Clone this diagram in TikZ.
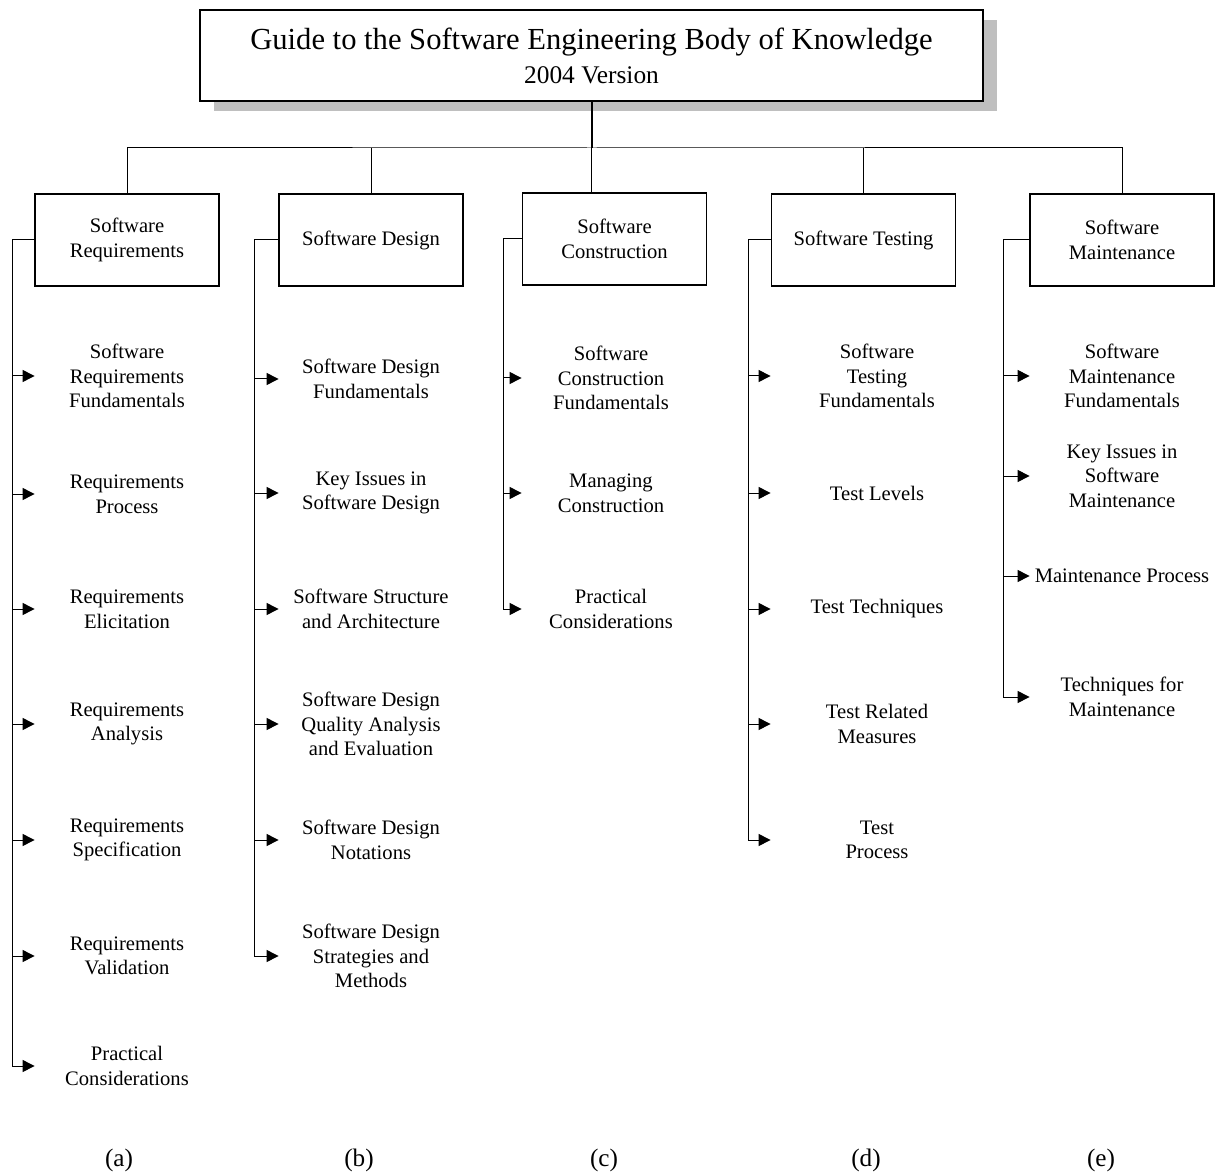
\documentclass[tikz,border=0pt]{standalone}
\usepackage{fontspec}
\setmainfont{Liberation Serif}
\usetikzlibrary{arrows.meta,shadows}

\tikzset{
  area/.style={draw, line width=0.75pt, minimum width=92pt, minimum height=46pt,
    align=center, inner sep=0pt, font=\fontsize{10.3}{12.3}\selectfont},
  topic/.style={minimum width=92pt, align=center, inner sep=0pt,
    font=\fontsize{10.3}{12.3}\selectfont},
  link/.style={line width=0.5pt},
  branch/.style={line width=0.5pt, -{Triangle[length=6pt,width=6pt]}},
  caption/.style={font=\fontsize{12.6}{14}\selectfont}
}

\begin{document}
\begin{tikzpicture}[x=0.5pt,y=-0.5pt]
    \useasboundingbox (0,0) rectangle (1215,1176);

    % Title box
    \node[draw, line width=0.75pt, fill=white, minimum width=391.5pt, minimum height=45.5pt,
      align=center, inner sep=0pt,
      drop shadow={shadow xshift=7pt, shadow yshift=-5pt, fill=black!25, opacity=1}]
      (guide) at (591.5,55.5)
      {{\fontsize{15.3}{16.5}\selectfont Guide to the Software Engineering Body of Knowledge}\\[5pt]
       {\fontsize{12.7}{16.5}\selectfont 2004 Version}};

    % Knowledge areas
    \node[area] (sa) at (127,240) {Software\\Requirements};
    \node[area] (sb) at (371,240) {Software Design};
    \node[area] (sc) at (614.5,239) {Software\\Construction};
    \node[area] (sd) at (863.5,240) {Software Testing};
    \node[area] (se) at (1122,240) {Software\\Maintenance};

    % Top level links
    \coordinate (bus) at (591.5,148);
    \draw[line width=1pt] (guide.south) -- (bus);
    \draw[link] (sa.north) |- (bus) -| (se.north);
    \draw[link] (sb.north) -- (sb.north |- bus);
    \draw[link] (bus) -- (bus |- sc.north);
    \draw[link] (sd.north) -- (sd.north |- bus);

    % (a) Software Requirements
    \foreach \k/\y/\t in {1/376/{Software\\Requirements\\Fundamentals},
                          2/494/{Requirements\\Process},
                          3/609/{Requirements\\Elicitation},
                          4/724/{Requirements\\Analysis},
                          5/840/{Requirements\\Specification},
                          6/956/{Requirements\\Validation},
                          7/1066/{Practical\\Considerations}}
      \node[topic] (a\k) at (127,\y) {\t};
    \coordinate (ra) at (12,240);
    \draw[link] (sa.west) -- (ra) -- (ra |- a7.west);
    \foreach \k in {1,...,7}
      \draw[branch] (ra |- a\k.west) -- (a\k.west);

    % (b) Software Design
    \foreach \k/\y/\t in {1/379/{Software Design\\Fundamentals},
                          2/493/{Key Issues in\\Software Design},
                          3/609/{Software Structure\\and Architecture},
                          4/724/{Software Design\\Quality Analysis\\and Evaluation},
                          5/840/{Software Design\\Notations},
                          6/956/{Software Design\\Strategies and\\Methods}}
      \node[topic] (b\k) at (371,\y) {\t};
    \coordinate (rb) at (254,240);
    \draw[link] (sb.west) -- (rb) -- (rb |- b6.west);
    \foreach \k in {1,...,6}
      \draw[branch] (rb |- b\k.west) -- (b\k.west);

    % (c) Software Construction
    \foreach \k/\y/\t in {1/378/{Software\\Construction\\Fundamentals},
                          2/493/{Managing\\Construction},
                          3/609/{Practical\\Considerations}}
      \node[topic, minimum width=89pt] (c\k) at (611,\y) {\t};
    \coordinate (rc) at (503,239);
    \draw[link] (sc.west) -- (rc) -- (rc |- c3.west);
    \foreach \k in {1,...,3}
      \draw[branch] (rc |- c\k.west) -- (c\k.west);

    % (d) Software Testing
    \foreach \k/\y/\t in {1/376/{Software\\Testing\\Fundamentals},
                          2/493/{Test Levels},
                          3/609/{Test Techniques},
                          4/724/{Test Related\\Measures},
                          5/840/{Test\\Process}}
      \node[topic, minimum width=106pt] (d\k) at (877,\y) {\t};
    \coordinate (rd) at (748,240);
    \draw[link] (sd.west) -- (rd) -- (rd |- d5.west);
    \foreach \k in {1,...,5}
      \draw[branch] (rd |- d\k.west) -- (d\k.west);

    % (e) Software Maintenance
    \foreach \k/\y/\t in {1/376/{Software\\Maintenance\\Fundamentals},
                          2/476/{Key Issues in\\Software\\Maintenance},
                          3/576/{Maintenance Process},
                          4/697/{Techniques for\\Maintenance}}
      \node[topic] (e\k) at (1122,\y) {\t};
    \coordinate (re) at (1003,240);
    \draw[link] (se.west) -- (re) -- (re |- e4.west);
    \foreach \k in {1,...,4}
      \draw[branch] (re |- e\k.west) -- (e\k.west);

    % Captions
    \node[caption] (capa) at (119,1160) {(a)};
    \node[caption] (capb) at (359,1160) {(b)};
    \node[caption] (capc) at (604,1160) {(c)};
    \node[caption] (capd) at (866,1160) {(d)};
    \node[caption] (cape) at (1101,1160) {(e)};
\end{tikzpicture}
\end{document}
